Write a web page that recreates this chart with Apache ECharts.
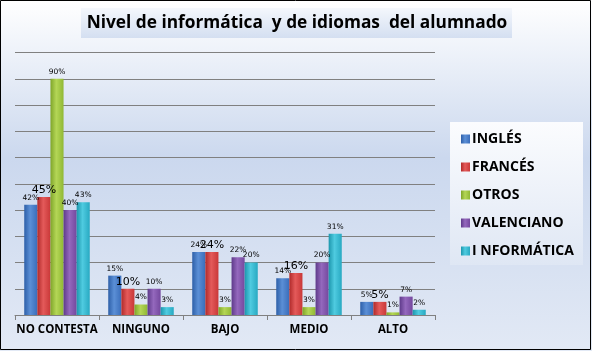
<!DOCTYPE html>
<html>
<head>
<meta charset="utf-8">
<script src="https://cdn.jsdelivr.net/npm/echarts@6/dist/echarts.min.js"></script>
<style>
html,body{margin:0;padding:0;}
#main{width:592px;height:351px;}
</style>
</head>
<body>
<div id="main"></div>
<script>
var categories = ['NO CONTESTA', 'NINGUNO', 'BAJO', 'MEDIO', 'ALTO'];
var ingles = [42, 15, 24, 14, 5];
var frances = [45, 10, 24, 16, 5];
var otros = [90, 4, 3, 3, 1];
var valenciano = [40, 10, 22, 20, 7];
var informatica = [43, 3, 20, 31, 2];
var seriesNames = ['INGLÉS', 'FRANCÉS', 'OTROS', 'VALENCIANO', 'I NFORMÁTICA'];

var myChart = echarts.init(document.getElementById('main'));

function barColor(dark, mid, light){
    return new echarts.graphic.LinearGradient(0, 0, 1, 0, [
        {offset: 0, color: dark},
        {offset: 0.45, color: light},
        {offset: 1, color: mid}
    ]);
}
var colors = [
    barColor('#2d5fa8', '#3a6dba', '#5b8fd6'),
    barColor('#b02a2a', '#c93838', '#e45a5a'),
    barColor('#7fa52a', '#90b834', '#b4d656'),
    barColor('#5e3a8a', '#74489e', '#9468bd'),
    barColor('#1d97ad', '#28a9c2', '#4fcbe0')
];
var flatColors = ['#3a6dba', '#c93838', '#9dc23a', '#7a4ea4', '#2eb2c9'];

function makeSeries(name, data, idx){
    return {
        name: name,
        type: 'bar',
        data: data,
        barGap: '0%',
        barCategoryGap: '22%',
        itemStyle: {color: colors[idx]},
        label: {
            show: true,
            position: 'top',
            distance: idx == 1 ? 1 : 3,
            formatter: '{c}%',
            fontFamily: 'DejaVu Sans',
            fontSize: idx == 1 ? 11 : 7.5,
            color: '#000'
        }
    };
}

var option = {
    backgroundColor: new echarts.graphic.LinearGradient(0, 0, 0, 1, [
        {offset: 0, color: '#ffffff'},
        {offset: 0.45, color: '#cbd8ee'},
        {offset: 1, color: '#e2e9f5'}
    ]),
    animation: false,
    color: flatColors,
    graphic: [
        {
            type: 'rect',
            shape: {x: 0.5, y: 0.5, width: 590, height: 349},
            style: {fill: 'none', stroke: '#000', lineWidth: 1},
            z: 100
        },
        {
            type: 'rect',
            shape: {x: 81, y: 8, width: 431, height: 30},
            style: {fill: new echarts.graphic.LinearGradient(0, 0, 0, 1, [
                {offset: 0, color: '#f4f7fc'},
                {offset: 1, color: '#d4dff1'}
            ])},
            z: -1
        },
        {
            type: 'rect',
            shape: {x: 450, y: 122, width: 133, height: 143},
            style: {fill: new echarts.graphic.LinearGradient(0, 0, 0, 1, [
                {offset: 0, color: '#fbfcfe'},
                {offset: 1, color: '#dfe7f4'}
            ])},
            z: -1
        }
    ],
    title: {
        text: 'Nivel de informática  y de idiomas  del alumnado',
        left: 292,
        textAlign: 'center',
        top: 10,
        textStyle: {fontFamily: 'Open Sans', fontSize: 17.3, fontWeight: 'bold', color: '#000'}
    },
    legend: {
        orient: 'vertical',
        left: 456,
        top: 127,
        itemWidth: 9,
        itemHeight: 9,
        itemGap: 14,
        icon: 'rect',
        data: seriesNames,
        textStyle: {fontFamily: 'Open Sans', fontSize: 14, fontWeight: 'bold', color: '#000', padding: [0, 0, 0, -3]}
    },
    grid: {left: 15, right: 157, top: 52.5, bottom: 36},
    xAxis: {
        type: 'category',
        data: categories,
        axisLine: {lineStyle: {color: '#808080'}},
        axisTick: {show: true, length: 5, lineStyle: {color: '#808080'}},
        axisLabel: {interval: 0, fontFamily: 'Open Sans', fontSize: 11.5, fontWeight: 'bold', color: '#000', margin: 9}
    },
    yAxis: {
        type: 'value',
        min: 0,
        max: 100,
        interval: 10,
        axisLabel: {show: false},
        axisLine: {show: false},
        axisTick: {show: false},
        splitLine: {lineStyle: {color: '#808080'}}
    },
    series: [
        makeSeries(seriesNames[0], ingles, 0),
        makeSeries(seriesNames[1], frances, 1),
        makeSeries(seriesNames[2], otros, 2),
        makeSeries(seriesNames[3], valenciano, 3),
        makeSeries(seriesNames[4], informatica, 4)
    ]
};
myChart.setOption(option);
</script>
</body>
</html>
